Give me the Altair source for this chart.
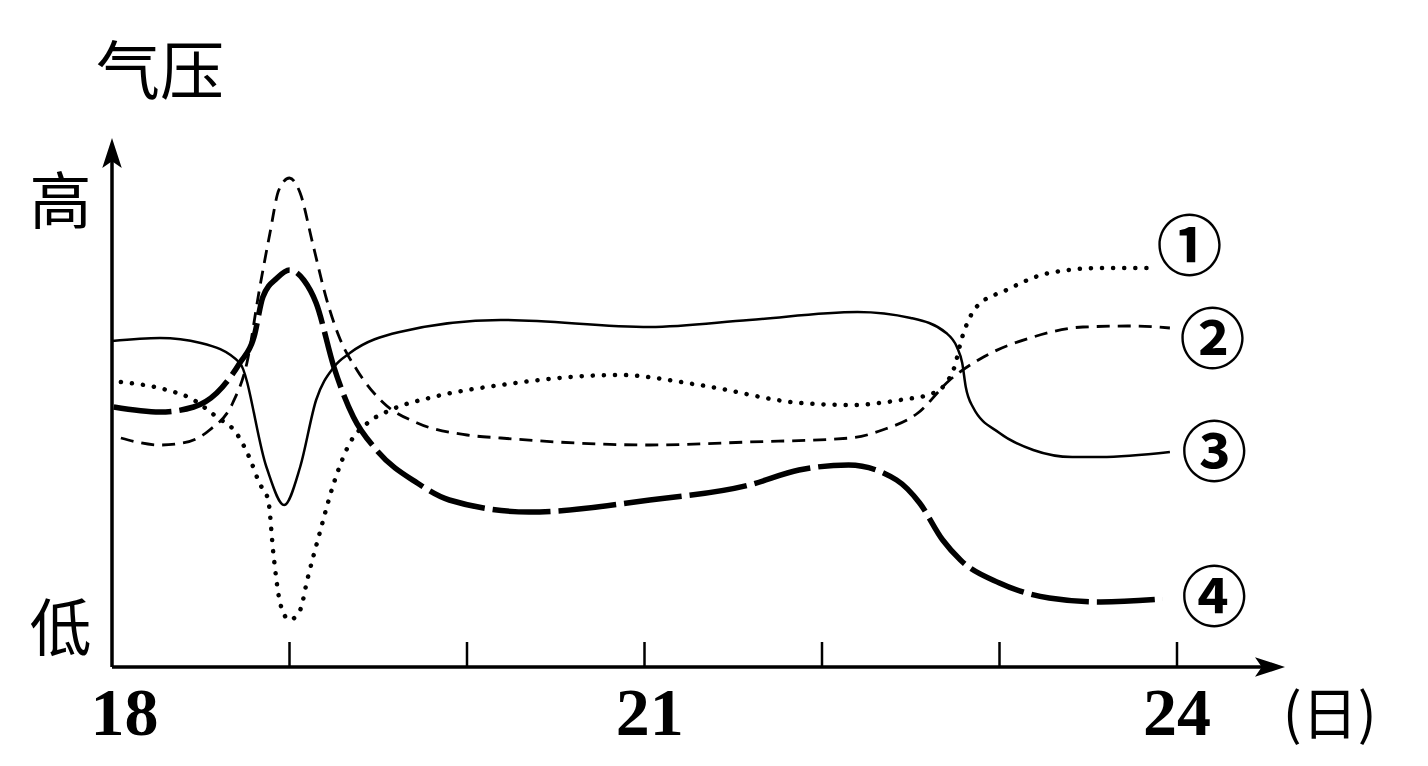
import altair as alt
import pandas as pd

# ---------------- data ----------------
# pressure in arbitrary units (0 = x axis, larger = higher)
d1 = [18.05, 18.31, 18.44, 18.59, 18.70, 18.78, 18.83, 18.88, 18.91, 18.95, 19.00, 19.06,
      19.10, 19.17, 19.25, 19.34, 19.44, 19.57, 19.81, 20.19, 20.86, 21.31, 21.88, 22.16,
      22.44, 22.63, 22.74, 22.79, 22.87, 23.04, 23.28, 23.57, 23.83]
p1 = [285, 277, 269, 250, 234, 207, 184, 167, 112, 62, 47, 57,
      87, 134, 184, 224, 244, 257, 270, 282, 292, 282, 264, 262,
      267, 274, 297, 330, 360, 377, 394, 399, 399]

d2 = [18.05, 18.27, 18.40, 18.55, 18.68, 18.76, 18.83, 18.89, 18.94, 19.00, 19.06, 19.13,
      19.21, 19.28, 19.38, 19.53, 19.72, 20.00, 20.19, 21.03, 21.59, 22.16, 22.34, 22.54,
      22.72, 22.91, 23.19, 23.47, 23.75, 23.96]
p2 = [229, 222, 224, 237, 264, 304, 377, 434, 477, 489, 474, 424,
      367, 330, 297, 264, 244, 232, 229, 222, 225, 229, 237, 254,
      287, 310, 330, 340, 341, 339]

d3 = [18.00, 18.27, 18.50, 18.72, 18.87, 18.97, 19.06, 19.15, 19.25, 19.34, 19.62, 20.19,
      21.03, 21.59, 22.20, 22.50, 22.70, 22.76, 22.79, 22.81, 22.85, 23.00, 23.19, 23.41,
      23.57, 23.96]
p3 = [326, 329, 324, 304, 200, 162, 200, 267, 300, 314, 335, 347,
      340, 347, 355, 349, 334, 320, 304, 280, 260, 234, 217, 210,
      210, 215]

d4 = [18.01, 18.27, 18.46, 18.59, 18.72, 18.80, 18.85, 18.93, 19.00, 19.08, 19.15, 19.25,
      19.36, 19.49, 19.72, 19.90, 20.35, 21.03, 21.59, 21.87, 22.15, 22.42, 22.55, 22.68,
      22.78, 23.00, 23.28, 23.57, 23.92]
p4 = [260, 255, 260, 274, 304, 330, 370, 389, 397, 387, 364, 300,
      250, 217, 184, 167, 155, 167, 182, 197, 202, 187, 164, 127,
      107, 84, 69, 65, 68]

series_labels = ["①", "②", "③", "④"]
label_day = [24.07, 24.20, 24.21, 24.21]
label_p = [417, 324, 211, 66]

tick_days = [19, 20, 21, 22, 23, 24]
x_label_text = ["18", "21", "24"]
x_label_day = [18.07, 21.03, 24.0]

X0, X1 = 18.0, 18.0 + 1178 / 177.5
Y0, Y1 = 0, 527

xs = alt.Scale(domain=[X0, X1], nice=False, zero=False)
ys = alt.Scale(domain=[Y0, Y1], nice=False, zero=False)
noax = None


def line_df(days, ps):
    return pd.DataFrame({"d": days, "p": ps})


def curve(days, ps, **kw):
    return alt.Chart(line_df(days, ps)).mark_line(
        interpolate="monotone", color="black", **kw
    ).encode(
        x=alt.X("d:Q", scale=xs, axis=noax),
        y=alt.Y("p:Q", scale=ys, axis=noax),
    )


c1 = curve(d1, p1, strokeWidth=4.5, strokeDash=[0.1, 11], strokeCap="round")
c2 = curve(d2, p2, strokeWidth=2.8, strokeDash=[13, 8])
c3 = curve(d3, p3, strokeWidth=2.5)
c4 = curve(d4, p4, strokeWidth=5.5, strokeDash=[58, 8])

# axes
xaxis = alt.Chart(pd.DataFrame({"a": [X0], "b": [24.52], "p": [0]})).mark_rule(
    color="black", strokeWidth=3.5
).encode(x=alt.X("a:Q", scale=xs, axis=noax), x2="b:Q", y=alt.Y("p:Q", scale=ys, axis=noax))

yaxis = alt.Chart(pd.DataFrame({"d": [X0], "a": [0], "b": [514]})).mark_rule(
    color="black", strokeWidth=3.5
).encode(x=alt.X("d:Q", scale=xs, axis=noax), y=alt.Y("a:Q", scale=ys, axis=noax), y2="b:Q")

ticks = alt.Chart(pd.DataFrame({"d": tick_days, "a": [0] * 6, "b": [25] * 6})).mark_rule(
    color="black", strokeWidth=2.5
).encode(x=alt.X("d:Q", scale=xs, axis=noax), y=alt.Y("a:Q", scale=ys, axis=noax), y2="b:Q")

arrow_r = alt.Chart(pd.DataFrame({"d": [24.524], "p": [0]})).mark_point(
    shape="M-1,-0.65 L1,0 L-1,0.65 L-0.55,0 Z", filled=True, color="black", opacity=1, size=900
).encode(x=alt.X("d:Q", scale=xs, axis=noax), y=alt.Y("p:Q", scale=ys, axis=noax))

arrow_u = alt.Chart(pd.DataFrame({"d": [X0], "p": [514]})).mark_point(
    shape="M-0.65,1 L0,-1 L0.65,1 L0,0.55 Z", filled=True, color="black", opacity=1, size=900
).encode(x=alt.X("d:Q", scale=xs, axis=noax), y=alt.Y("p:Q", scale=ys, axis=noax))


# texts
def text_layer(texts, days, ps, font, size, weight="normal"):
    df = pd.DataFrame({"t": texts, "d": days, "p": ps})
    return alt.Chart(df).mark_text(
        font=font, fontSize=size, fontWeight=weight, color="black",
        align="center", baseline="middle"
    ).encode(
        x=alt.X("d:Q", scale=xs, axis=noax),
        y=alt.Y("p:Q", scale=ys, axis=noax),
        text="t:N",
    )


xlabels = text_layer(x_label_text, x_label_day, [-48] * 3, "Liberation Serif", 68, "bold")
unit = text_layer(["(日)"], [24.86], [-50], "Noto Sans CJK SC", 56)
ytitle = text_layer(["气压"], [18.27], [592], "Noto Sans CJK SC", 64)
yhl = text_layer(["高", "低"], [17.71, 17.71], [462, 35], "Noto Sans CJK SC", 62)
serlab = text_layer(series_labels, label_day, label_p, "Noto Sans CJK SC", 66, "bold")

chart = alt.layer(
    c3, c2, c1, c4, xaxis, yaxis, ticks, arrow_r, arrow_u,
    xlabels, unit, ytitle, yhl, serlab
).properties(
    width=1178, height=527,
    autosize=alt.AutoSizeParams(type="none"),
    padding={"left": 104, "top": 132, "right": 130, "bottom": 91},
).configure(background="white").configure_view(strokeWidth=0, stroke=None)

chart.save("out.html", embed_options={"renderer": "svg", "actions": False})
